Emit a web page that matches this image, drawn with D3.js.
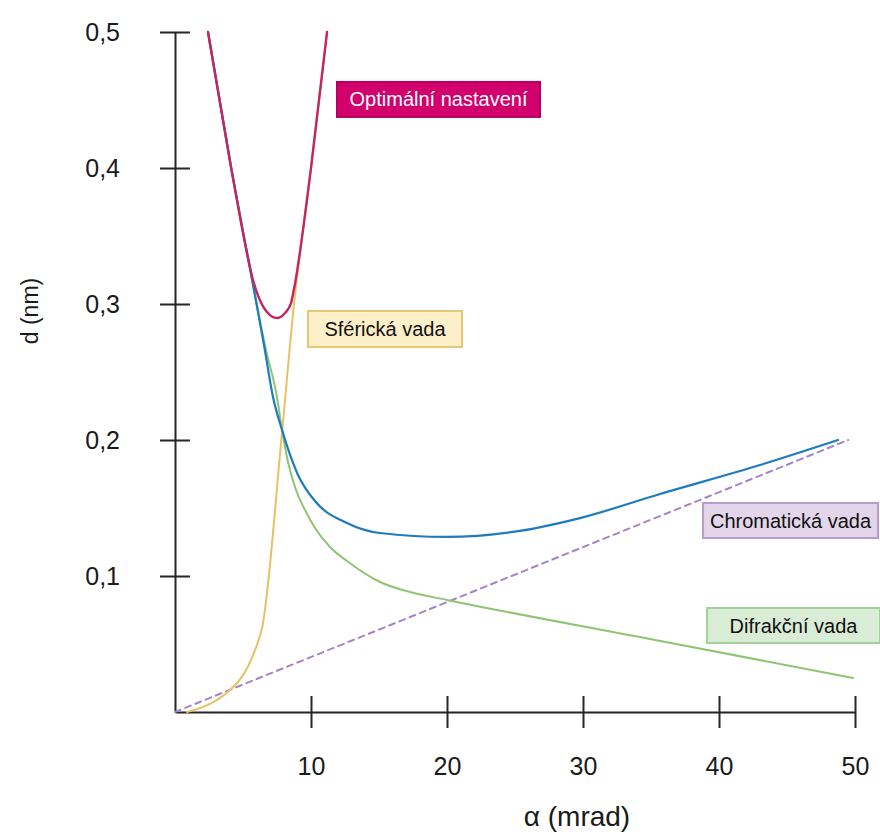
<!DOCTYPE html>
<html>
<head>
<meta charset="utf-8">
<script src="https://cdn.jsdelivr.net/npm/d3@7/dist/d3.min.js"></script>
<style>
  html, body { margin: 0; padding: 0; background: #fff; }
  svg { display: block; font-family: "Liberation Sans", Arial, sans-serif; }
</style>
</head>
<body>
<svg id="chart" width="880" height="834"></svg>
<script>
// Tick values for both axes
const xTicks = [10, 20, 30, 40, 50];
const yTicks = [0.1, 0.2, 0.3, 0.4, 0.5];

// Curves: [α (mrad), d (nm)]
const chromatic = [[0, 0], [49.5, 0.2]];
const spherical = [
  [0.88, 0], [2.57, 0.0059], [4.04, 0.0162], [5.15, 0.0294], [5.74, 0.0419],
  [6.10, 0.0515], [6.40, 0.0618], [7.87, 0.2059], [8.75, 0.3], [10.0, 0.4],
  [11.18, 0.5]
];
const diffraction = [
  [2.426, 0.5], [4.118, 0.4007], [5.294, 0.3375], [5.809, 0.3103], [6.691, 0.2662],
  [7.5, 0.2316], [7.868, 0.2074], [8.309, 0.1838], [8.897, 0.1632], [9.559, 0.1485],
  [10.294, 0.1353], [11.397, 0.1213], [12.647, 0.111], [15.074, 0.0956], [17.279, 0.0882],
  [20.0, 0.0824], [34.926, 0.0537], [49.853, 0.025]
];
const total = [
  [2.426, 0.5], [4.118, 0.4007], [5.294, 0.3375], [5.809, 0.3103], [6.544, 0.2699],
  [7.206, 0.2316], [7.868, 0.2074], [9.044, 0.1743], [10.294, 0.1551], [12.647, 0.139],
  [15.074, 0.1316], [20.0, 0.1287], [24.853, 0.1324], [29.779, 0.1426], [35.662, 0.1603],
  [43.015, 0.1816], [48.75, 0.2]
];
const optimal = [
  [2.426, 0.5], [4.118, 0.4007], [5.294, 0.3375], [5.735, 0.3176], [6.176, 0.3044],
  [6.76, 0.2941], [7.5, 0.2897], [8.09, 0.2934], [8.53, 0.3007], [8.75, 0.311],
  [10.0, 0.4], [11.18, 0.5]
];

// Callout labels (box centre in data units, box size in px)
const labels = [
  { text: "Optimální nastavení", a: 19.375, d: 0.4504, w: 203, h: 35, fill: "#d2006d", stroke: "#b5005c", color: "#ffffff" },
  { text: "Sférická vada", a: 15.44, d: 0.2816, w: 154, h: 36, fill: "#fdf0c9", stroke: "#e6c873", color: "#111111" },
  { text: "Chromatická vada", a: 45.26, d: 0.1408, w: 175, h: 35, fill: "#e3d5ea", stroke: "#b79ccb", color: "#111111" },
  { text: "Difrakční vada", a: 45.48, d: 0.0636, w: 173, h: 35, fill: "#d9edd6", stroke: "#a3d09a", color: "#111111" }
];

const svg = d3.select("#chart");
const x = d3.scaleLinear().domain([0, 50]).range([175, 855]);
const y = d3.scaleLinear().domain([0, 0.5]).range([712, 32]);

const fmt = v => d3.format(".1f")(v).replace(".", ",");

// Axes
const gx = svg.append("g").attr("transform", `translate(0,${y(0)})`)
  .call(d3.axisBottom(x).tickValues(xTicks).tickSizeInner(16).tickSizeOuter(0).tickFormat(d3.format("d")));
gx.selectAll(".tick line").attr("y1", -16);
gx.selectAll(".tick text").attr("y", 45).attr("font-size", 25).attr("fill", "#1a1a1a");

const gy = svg.append("g").attr("transform", `translate(${x(0)},0)`)
  .call(d3.axisLeft(y).tickValues(yTicks).tickSizeInner(15).tickSizeOuter(0).tickPadding(40).tickFormat(fmt));
gy.selectAll(".tick line").attr("x1", 15);
gy.selectAll(".tick text").attr("font-size", 25).attr("fill", "#1a1a1a");

[gx, gy].forEach(g => {
  g.select(".domain").attr("stroke", "#262626").attr("stroke-width", 2);
  g.selectAll(".tick line").attr("stroke", "#262626").attr("stroke-width", 2);
  g.attr("font-family", null);
});

// Axis titles
svg.append("text").attr("x", 577).attr("y", 826).attr("text-anchor", "middle")
  .attr("font-size", 28).attr("fill", "#1a1a1a").text("α (mrad)");
svg.append("text").attr("transform", "translate(38,311) rotate(-90)").attr("text-anchor", "middle")
  .attr("font-size", 23).attr("fill", "#1a1a1a").text("d (nm)");

// Curves
const line = d3.line().x(d => x(d[0])).y(d => y(d[1])).curve(d3.curveMonotoneX);
const series = [
  { data: chromatic, color: "#a585c6", dash: "6,5", width: 2 },
  { data: spherical, color: "#e9c163", dash: null, width: 2 },
  { data: diffraction, color: "#8ec474", dash: null, width: 2 },
  { data: total, color: "#1f7bbf", dash: null, width: 2.2 },
  { data: optimal, color: "#c42660", dash: null, width: 2.4 }
];
series.forEach(s => {
  svg.append("path").datum(s.data).attr("d", line)
    .attr("fill", "none").attr("stroke", s.color).attr("stroke-width", s.width)
    .attr("stroke-dasharray", s.dash).attr("stroke-linejoin", "round").attr("stroke-linecap", "round");
});

// Labels
labels.forEach(l => {
  const cx = x(l.a), cy = y(l.d);
  svg.append("rect").attr("x", cx - l.w / 2).attr("y", cy - l.h / 2).attr("width", l.w).attr("height", l.h)
    .attr("fill", l.fill).attr("stroke", l.stroke).attr("stroke-width", 2);
  svg.append("text").attr("x", cx).attr("y", cy).attr("dy", "0.35em").attr("text-anchor", "middle")
    .attr("font-size", 20).attr("fill", l.color).text(l.text);
});
</script>
</body>
</html>
